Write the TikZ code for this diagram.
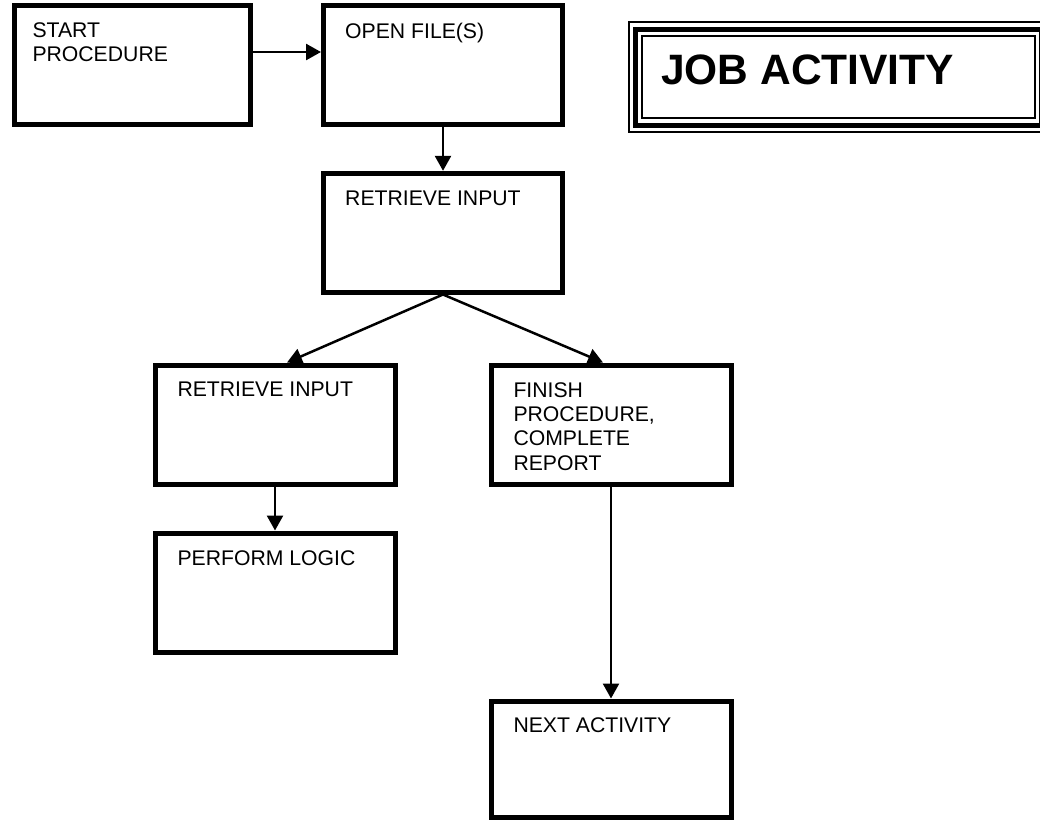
\documentclass[tikz,border=0pt]{standalone}
\usepackage{fontspec}
\setmainfont{Liberation Sans}
\usetikzlibrary{arrows.meta,calc}
\begin{document}
\begin{tikzpicture}[x=1pt,y=-1pt,
  box/.style={draw, line width=5pt, rectangle, inner sep=0pt, outer sep=2.5pt},
  boxtext/.style={anchor=north west, inner sep=0pt, align=left, font=\fontsize{21.2}{24.2}\selectfont},
  conn/.style={line width=2.5pt, -{Triangle[length=15pt,width=16pt]}},
  thinframe/.style={line width=2pt},
  thickframe/.style={line width=5pt}
]
\useasboundingbox (0,0) rectangle (1040,820);
\clip (0,0) rectangle (1040,820);

% boxes
\node[box, minimum width=236.5pt, minimum height=119.5pt] (start) at (132.25,64.75) {};
\node[box, minimum width=239pt, minimum height=119.5pt] (open) at (443,64.75) {};
\node[box, minimum width=239pt, minimum height=118.7pt] (rtop) at (443,232.65) {};
\node[box, minimum width=240pt, minimum height=119pt] (rleft) at (275,424.5) {};
\node[box, minimum width=240pt, minimum height=119pt] (perform) at (275,592.5) {};
\node[box, minimum width=240pt, minimum height=119pt] (finish) at (611,424.5) {};
\node[box, minimum width=240pt, minimum height=116.5pt] (nextact) at (611,759.25) {};

% texts
\node[boxtext] (tstart) at ([shift={(20.8,20)}]start.north west) {START\\PROCEDURE};
\node[boxtext] (topen) at ([shift={(24,20)}]open.north west) {OPEN FILE(S)};
\node[boxtext] (trtop) at ([shift={(24,20)}]rtop.north west) {RETRIEVE INPUT};
\node[boxtext] (trleft) at ([shift={(24.8,19.5)}]rleft.north west) {RETRIEVE INPUT};
\node[boxtext] (tperform) at ([shift={(24.8,19.5)}]perform.north west) {PERFORM LOGIC};
\node[boxtext] (tfinish) at ([shift={(24.8,20)}]finish.north west) {FINISH\\PROCEDURE,\\COMPLETE\\REPORT};
\node[boxtext] (tnext) at ([shift={(24.8,19)}]nextact.north west) {NEXT ACTIVITY};

% title frame
\draw[thinframe] (628.5,22) rectangle (1048,131.5);
\draw[thickframe] (635,29) rectangle (1041.5,125);
\draw[thinframe] (641.5,35.5) rectangle (1035,118);
\node[anchor=north west, inner sep=0pt, font=\bfseries\fontsize{42.5}{48}\selectfont] (title) at (661,55) {JOB ACTIVITY};

% connectors
\draw[conn] ([yshift=12.75pt]start.east) -- ([yshift=12.75pt]open.west);
\draw[conn] (open.south) -- (rtop.north);
\draw[conn] (rtop.south) -- ([xshift=12pt]rleft.north);
\draw[conn] (rtop.south) -- ([xshift=-8pt]finish.north);
\draw[conn] (rleft.south) -- (perform.north);
\draw[conn] (finish.south) -- (nextact.north);
\end{tikzpicture}
\end{document}
